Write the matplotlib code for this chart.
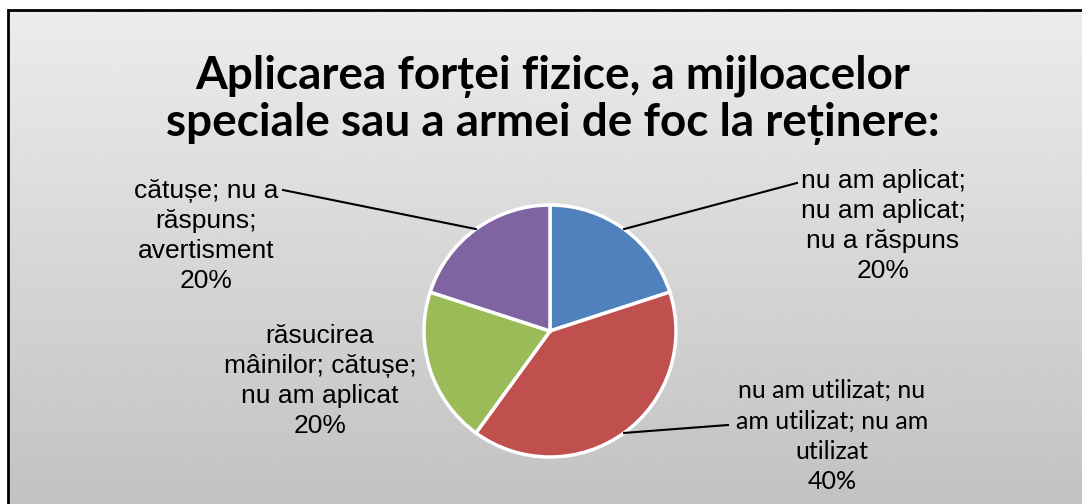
import numpy as np
import matplotlib.pyplot as plt
from matplotlib.patches import Rectangle

title = 'Aplicarea forței fizice, a mijloacelor\nspeciale sau a armei de foc la reținere:'
labels = ['nu am aplicat;\nnu am aplicat;\nnu a răspuns',
          'nu am utilizat; nu\nam utilizat; nu am\nutilizat',
          'răsucirea\nmâinilor; cătușe;\nnu am aplicat',
          'cătușe; nu a\nrăspuns;\navertisment']
values = [1, 2, 1, 1]
colors = ['#4f81bd', '#c0504d', '#9bbb59', '#8064a2']

W, H = 1082, 504
fig = plt.figure(figsize=(W / 100, H / 100), dpi=100)
ax = fig.add_axes([0, 0, 1, 1])
ax.set_xlim(0, W)
ax.set_ylim(0, H)
ax.set_aspect('equal')
ax.axis('off')

# gray gradient chart area with black frame
grad = np.linspace(0.925, 0.76, 256).reshape(-1, 1)
ax.imshow(grad, cmap='gray', vmin=0, vmax=1, extent=(8, W + 2, -2, 494),
          aspect='auto', zorder=0)
ax.add_patch(Rectangle((8, -2), W, 496, fill=False, edgecolor='black', lw=2, zorder=1))

ax.text(553, 404, title, ha='center', va='center', fontsize=33, fontweight='bold',
        family='Lato', linespacing=1.14, zorder=3)

cx, cy, r = 550, 173, 126
wedges, _ = ax.pie(values, colors=colors, startangle=90, counterclock=False,
                   center=(cx, cy), radius=r, frame=True,
                   wedgeprops=dict(edgecolor='white', linewidth=2.5))
for w in wedges:
    w.set_zorder(2)
ax.set_xlim(0, W)
ax.set_ylim(0, H)
ax.axis('off')

total = sum(values)
pcts = ['{:.0f}%'.format(100 * v / total) for v in values]

# label positions (pixel layout) and leader line end points
lab_pos = [(883, 278), (832, 68), (320, 123), (206, 268)]
lead_end = [(797, 321), (728, 79), None, (283, 314)]
fonts = ['Liberation Sans', 'Lato', 'Liberation Sans', 'Liberation Sans']

for i, w in enumerate(wedges):
    ang = np.deg2rad((w.theta1 + w.theta2) / 2)
    ex, ey = cx + r * np.cos(ang), cy + r * np.sin(ang)
    if lead_end[i] is not None:
        ax.plot([ex, lead_end[i][0]], [ey, lead_end[i][1]], color='black', lw=1.5, zorder=3)
    if fonts[i] == 'Lato':
        fs, ls = 18, 1.4
    else:
        fs, ls = 19, 1.32
    ax.text(lab_pos[i][0], lab_pos[i][1], labels[i] + '\n' + pcts[i], ha='center', va='center',
            fontsize=fs, family=fonts[i], linespacing=ls, zorder=3)

fig.savefig('out.png', dpi=100)
